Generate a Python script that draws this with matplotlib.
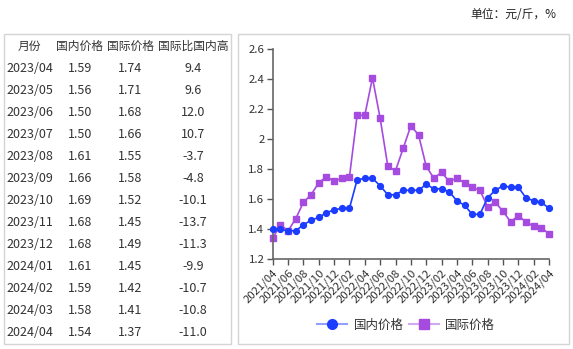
import matplotlib
matplotlib.use("Agg")
import matplotlib.pyplot as plt
from matplotlib.patches import Rectangle
from matplotlib.lines import Line2D
import pandas as pd

plt.rcParams['font.family'] = ['Noto Sans CJK SC', 'DejaVu Sans']

# monthly series 2021/04 - 2024/04
months = [d.strftime("%Y/%m") for d in pd.date_range("2021-04-01", "2024-04-01", freq="MS")]
domestic = [1.40, 1.40, 1.39, 1.39, 1.43, 1.46, 1.48, 1.51, 1.53, 1.54, 1.54, 1.73,
            1.74, 1.74, 1.69, 1.63, 1.63, 1.66, 1.66, 1.66, 1.70, 1.67, 1.67, 1.65,
            1.59, 1.56, 1.50, 1.50, 1.61, 1.66, 1.69, 1.68, 1.68, 1.61, 1.59, 1.58, 1.54]
international = [1.34, 1.43, 1.39, 1.47, 1.58, 1.63, 1.71, 1.75, 1.72, 1.74, 1.75, 2.16,
                 2.16, 2.41, 2.14, 1.82, 1.79, 1.94, 2.09, 2.03, 1.82, 1.74, 1.78, 1.72,
                 1.74, 1.71, 1.68, 1.66, 1.55, 1.58, 1.52, 1.45, 1.49, 1.45, 1.42, 1.41, 1.37]

# table on the left
table_header = ["月份", "国内价格", "国际价格", "国际比国内高"]
table_months = ["2023/04", "2023/05", "2023/06", "2023/07", "2023/08", "2023/09", "2023/10",
                "2023/11", "2023/12", "2024/01", "2024/02", "2024/03", "2024/04"]
table_dom = ["1.59", "1.56", "1.50", "1.50", "1.61", "1.66", "1.69",
             "1.68", "1.68", "1.61", "1.59", "1.58", "1.54"]
table_intl = ["1.74", "1.71", "1.68", "1.66", "1.55", "1.58", "1.52",
              "1.45", "1.49", "1.45", "1.42", "1.41", "1.37"]
table_diff = ["9.4", "9.6", "12.0", "10.7", "-3.7", "-4.8", "-10.1",
              "-13.7", "-11.3", "-9.9", "-10.7", "-10.8", "-11.0"]

W, H = 573, 349
fig = plt.figure(figsize=(W / 100, H / 100), dpi=100)

def fx(px):
    return px / W

def fy(py):
    return 1 - py / H

# boxes around table and chart
for x0, x1 in [(4, 231), (238, 569)]:
    fig.patches.append(Rectangle((fx(x0), fy(344)), fx(x1 - x0), (344 - 34) / H,
                                 transform=fig.transFigure, fill=False,
                                 edgecolor="#d4d4d4", linewidth=1))

fig.text(fx(556), fy(15), "单位：元/斤，%", ha="right", va="center", fontsize=8.5, color="#222222")

text_color = "#333333"
col_x = [29.7, 79.7, 130, 193]
for cx, h in zip(col_x, table_header):
    fig.text(fx(cx), fy(46.5), h, ha="center", va="center", fontsize=8.5, color=text_color)

for i in range(len(table_months)):
    y = fy(68.3 + i * 22.05)
    row = [table_months[i], table_dom[i], table_intl[i], table_diff[i]]
    for cx, val in zip(col_x, row):
        fig.text(fx(cx), y, val, ha="center", va="center", fontsize=9, color=text_color)

# line chart
ax = fig.add_axes([fx(272.7), fy(259.3), fx(549 - 272.7), (259.3 - 49.3) / H])
x = list(range(len(months)))
blue = "#1c3dff"
purple = "#a64be0"
ax.plot(x, domestic, color=blue, linewidth=1.2, marker="o", markersize=4.2,
        clip_on=False, zorder=3)
ax.plot(x, international, color=purple, linewidth=1.2, marker="s", markersize=4.2,
        clip_on=False, zorder=2)

ax.set_xlim(0, len(months) - 1)
ax.set_ylim(1.2, 2.6)
ax.set_yticks([1.2, 1.4, 1.6, 1.8, 2.0, 2.2, 2.4, 2.6])
ax.set_yticklabels(["1.2", "1.4", "1.6", "1.8", "2", "2.2", "2.4", "2.6"])
ax.set_xticks(x[::2])
ax.set_xticklabels(months[::2], rotation=45, ha="right", rotation_mode="anchor")
ax.tick_params(axis="both", labelsize=8.2, colors="#555555", labelcolor=text_color,
               length=4, width=1, pad=2)
for side in ["top", "right"]:
    ax.spines[side].set_visible(False)
for side in ["left", "bottom"]:
    ax.spines[side].set_color("#666666")
    ax.spines[side].set_linewidth(1.2)

# legend: pale line, solid marker
handles = [
    Line2D([], [], color="#8fa0ff", linewidth=1.5, marker="o", markersize=7,
           markerfacecolor=blue, markeredgecolor=blue),
    Line2D([], [], color="#d2a8f0", linewidth=1.5, marker="s", markersize=7,
           markerfacecolor=purple, markeredgecolor=purple),
]
fig.legend(handles, ["国内价格", "国际价格"], loc="center", bbox_to_anchor=(fx(406), fy(325)),
           ncol=2, frameon=False, fontsize=9, handlelength=2.4, columnspacing=0.4,
           handletextpad=0.5, labelcolor=text_color)

fig.savefig("out.png", dpi=100)
